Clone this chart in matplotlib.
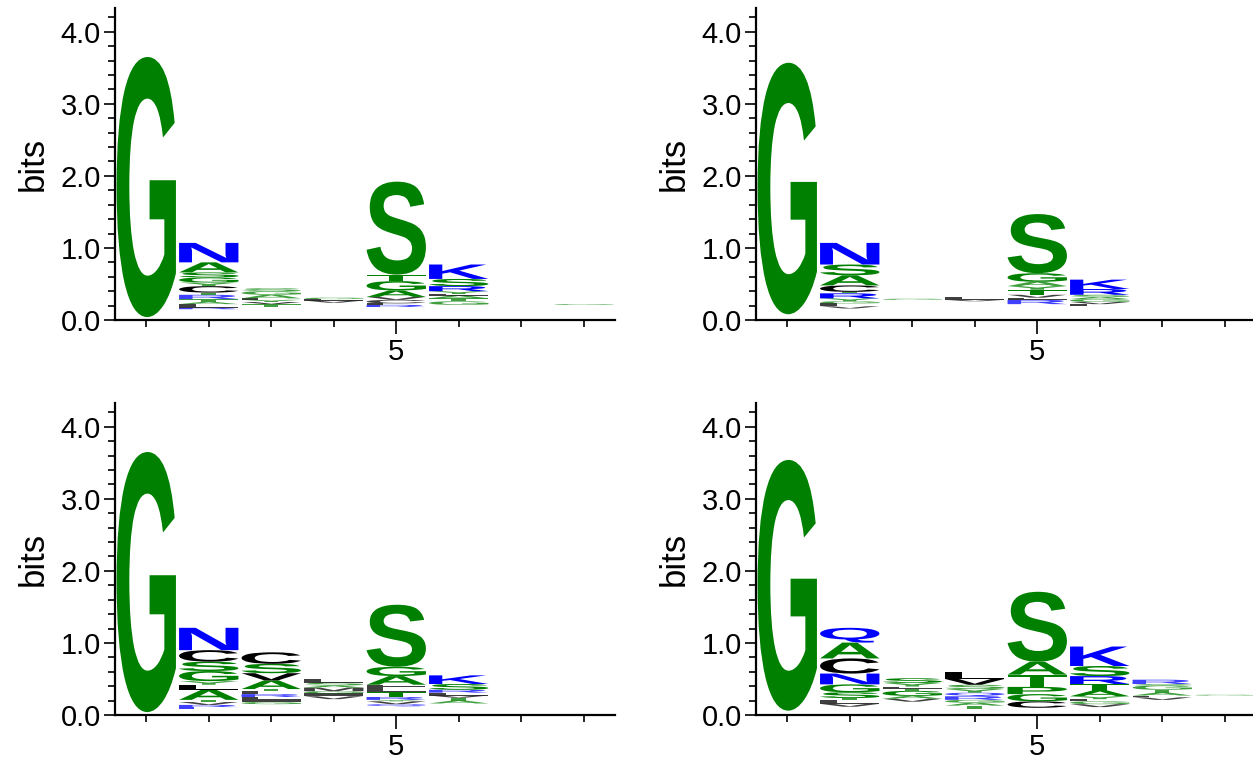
import matplotlib
matplotlib.use("Agg")
import matplotlib.pyplot as plt
from matplotlib.font_manager import FontProperties
from matplotlib.textpath import TextPath
from matplotlib.patches import PathPatch
from matplotlib.transforms import Affine2D
from matplotlib.ticker import MultipleLocator, FixedLocator

plt.rcParams['font.family'] = ['Liberation Sans', 'DejaVu Sans']

positions = [1, 2, 3, 4, 5, 6, 7, 8]

# each column: letters bottom -> top, their heights (bits), and the stack floor
p1_base = [0.04, 0.15, 0.18, 0.24, 0.18, 0.21, 0.0, 0.21]
p1_letters = ["G", "RLATRTCYGSAN", "TVYLAGS", "VLG", "RLCVAGTS", "GTALYRSK", "", "G"]
p1_heights = [[3.61],
              [0.02, 0.05, 0.03, 0.04, 0.06, 0.03, 0.09, 0.05, 0.07, 0.07, 0.14, 0.27],
              [0.04, 0.03, 0.03, 0.02, 0.05, 0.05, 0.04],
              [0.03, 0.02, 0.02],
              [0.03, 0.02, 0.05, 0.04, 0.09, 0.13, 0.09, 1.29],
              [0.05, 0.04, 0.04, 0.02, 0.04, 0.07, 0.10, 0.20],
              [],
              [0.012]]

p2_base = [0.08, 0.16, 0.28, 0.26, 0.22, 0.19, 0.0, 0.0]
p2_letters = ["G", "VLGYRTCASN", "G", "VL", "RLVTYAGS", "LVGASRK", "", ""]
p2_heights = [[3.49],
              [0.03, 0.04, 0.03, 0.04, 0.07, 0.02, 0.09, 0.14, 0.15, 0.30],
              [0.015],
              [0.02, 0.04],
              [0.06, 0.03, 0.04, 0.07, 0.05, 0.06, 0.12, 0.82],
              [0.03, 0.03, 0.04, 0.03, 0.03, 0.08, 0.13],
              [],
              []]

p3_base = [0.04, 0.08, 0.15, 0.22, 0.12, 0.16, 0.0, 0.0]
p3_letters = ["G", "ERVTALYGSCN", "GIFRLTAVSC", "VIGMASL", "QVYRTLFAGS", "ATVLRSK", "", ""]
p3_heights = [[3.61],
              [0.03, 0.03, 0.04, 0.03, 0.14, 0.07, 0.05, 0.14, 0.13, 0.16, 0.31],
              [0.03, 0.04, 0.03, 0.04, 0.04, 0.03, 0.12, 0.10, 0.13, 0.16],
              [0.04, 0.04, 0.03, 0.05, 0.03, 0.04, 0.05],
              [0.03, 0.04, 0.02, 0.04, 0.07, 0.05, 0.05, 0.12, 0.13, 0.86],
              [0.04, 0.04, 0.03, 0.04, 0.04, 0.08, 0.12],
              [],
              []]

p4_base = [0.06, 0.115, 0.185, 0.09, 0.10, 0.11, 0.21, 0.27]
p4_letters = ["G", "VLTSGNCAQ", "VAGTLYS", "TAGRQYSVL", "CGPTAS", "VGLYATRSK", "VLATGSR", "G"]
p4_heights = [[3.48],
              [0.04, 0.05, 0.03, 0.08, 0.11, 0.15, 0.21, 0.22, 0.205],
              [0.04, 0.04, 0.07, 0.03, 0.03, 0.05, 0.065],
              [0.04, 0.04, 0.04, 0.05, 0.05, 0.05, 0.06, 0.08, 0.10],
              [0.09, 0.10, 0.10, 0.17, 0.18, 0.97],
              [0.04, 0.04, 0.03, 0.04, 0.08, 0.09, 0.11, 0.14, 0.27],
              [0.035, 0.025, 0.04, 0.04, 0.06, 0.02, 0.06],
              [0.012]]

green, blue, black = "#008000", "#0000ff", "#000000"
colors = {}
for c in "GSTAYP":
    colors[c] = green
for c in "NKRQHDE":
    colors[c] = blue
for c in "CLVIMFW":
    colors[c] = black

glyph_font = FontProperties(family="Liberation Sans", weight="bold")


def draw_letter(ax, ch, x, y, w, h):
    tp = TextPath((0, 0), ch, size=1, prop=glyph_font)
    bb = tp.get_extents()
    t = (Affine2D().translate(-bb.x0, -bb.y0)
         .scale(w / bb.width, h / bb.height)
         .translate(x - w / 2, y))
    # thin letters come out pale in the reference
    alpha = 1.0 if h > 0.06 else 0.75
    ax.add_patch(PathPatch(t.transform_path(tp), fc=colors[ch], ec="none",
                           lw=0, alpha=alpha))


def draw_logo(ax, base, letters, heights):
    for pos, b, col, hs in zip(positions, base, letters, heights):
        y = b
        for ch, h in zip(col, hs):
            draw_letter(ax, ch, pos, y, 0.95, h)
            y += h

    ax.set_xlim(0.5, 8.5)
    ax.set_ylim(0, 4.33)
    for s in ["top", "right"]:
        ax.spines[s].set_visible(False)
    for s in ["left", "bottom"]:
        ax.spines[s].set_linewidth(1.6)
    ax.yaxis.set_major_locator(MultipleLocator(1.0))
    ax.yaxis.set_minor_locator(MultipleLocator(0.2))
    ax.yaxis.set_major_formatter(matplotlib.ticker.FormatStrFormatter("%.1f"))
    ax.xaxis.set_major_locator(FixedLocator([5]))
    ax.xaxis.set_minor_locator(FixedLocator(positions))
    ax.tick_params(axis="both", which="major", labelsize=21, length=8, width=1.2)
    ax.tick_params(axis="both", which="minor", length=5, width=1.2)
    ax.tick_params(axis="y", which="major", pad=2)
    ax.tick_params(axis="x", which="major", length=10, pad=3)
    ax.set_ylabel("bits", fontsize=25, labelpad=8)


fig = plt.figure(figsize=(12.53, 7.60), dpi=100)
w, h = 500 / 1253, 312 / 760
axes = [fig.add_axes([115 / 1253, 1 - 320 / 760, w, h]),
        fig.add_axes([756 / 1253, 1 - 320 / 760, w, h]),
        fig.add_axes([115 / 1253, 1 - 715 / 760, w, h]),
        fig.add_axes([756 / 1253, 1 - 715 / 760, w, h])]

draw_logo(axes[0], p1_base, p1_letters, p1_heights)
draw_logo(axes[1], p2_base, p2_letters, p2_heights)
draw_logo(axes[2], p3_base, p3_letters, p3_heights)
draw_logo(axes[3], p4_base, p4_letters, p4_heights)

fig.savefig("out.png", dpi=100)
